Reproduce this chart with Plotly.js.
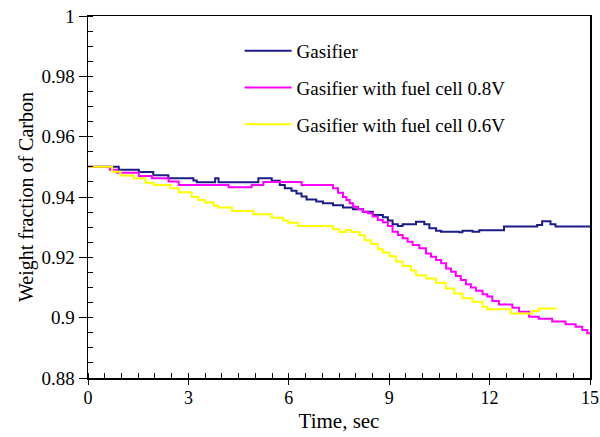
<!DOCTYPE html>
<html>
<head>
<meta charset="utf-8">
<script src="https://cdn.plot.ly/plotly-3.0.1.min.js"></script>
<style>
  html, body { margin: 0; padding: 0; background: #ffffff; }
  #chart { width: 600px; height: 437px; }
</style>
</head>
<body>
<div id="chart"></div>
<script>
// Weight fraction of carbon over time (step traces, value held until next time)
const gasTime = [0, 0.92, 1.52, 1.95, 2.4, 3.15, 3.25, 3.8, 3.9, 5.09, 5.49, 5.73, 5.88, 6.08, 6.23, 6.38, 6.53, 6.82, 7.02, 7.32, 7.62, 7.92, 8.21, 8.51, 8.81, 8.96, 9.1, 9.26, 9.4, 9.8, 10.05, 10.2, 10.4, 10.55, 11.09, 11.19, 11.49, 11.69, 12.43, 13.42, 13.57, 13.82, 13.97, 15];
const gasCarbon = [0.950, 0.9490, 0.9483, 0.9472, 0.9462, 0.9455, 0.9449, 0.9462, 0.9449, 0.9462, 0.9454, 0.9440, 0.9429, 0.9421, 0.9412, 0.9402, 0.9392, 0.9385, 0.9379, 0.9373, 0.9365, 0.9359, 0.9351, 0.9340, 0.9333, 0.9322, 0.9310, 0.9304, 0.9310, 0.9318, 0.9310, 0.9296, 0.9288, 0.9285, 0.9283, 0.9288, 0.9285, 0.9290, 0.9302, 0.9307, 0.9320, 0.9310, 0.9302, 0.9302];

const fc08Time = [0, 0.65, 0.87, 1.52, 1.91, 2.41, 2.71, 4.2, 4.89, 5.24, 6.38, 7.32, 7.47, 7.62, 7.72, 7.82, 7.92, 8.07, 8.21, 8.36, 8.51, 8.66, 8.81, 8.96, 9.1, 9.26, 9.4, 9.55, 9.7, 9.9, 10.1, 10.25, 10.4, 10.55, 10.7, 10.85, 10.99, 11.14, 11.29, 11.44, 11.59, 11.79, 11.93, 12.08, 12.28, 12.68, 12.88, 13.18, 13.47, 13.87, 14.27, 14.57, 14.77, 14.92, 15];
const fc08Carbon = [0.950, 0.9490, 0.9480, 0.9470, 0.9462, 0.9451, 0.9440, 0.9432, 0.9440, 0.9450, 0.9440, 0.9429, 0.9414, 0.9400, 0.9390, 0.9379, 0.9368, 0.9359, 0.9351, 0.9346, 0.9335, 0.9324, 0.9316, 0.9304, 0.9285, 0.9274, 0.9263, 0.9252, 0.9241, 0.9230, 0.9213, 0.9202, 0.9191, 0.9180, 0.9163, 0.9152, 0.9138, 0.9125, 0.9111, 0.9100, 0.9089, 0.9078, 0.9070, 0.9055, 0.9044, 0.9033, 0.9020, 0.9003, 0.8996, 0.8987, 0.8978, 0.8970, 0.8959, 0.8948, 0.8948];

const fc06Time = [0, 0.72, 0.97, 1.37, 1.72, 1.96, 2.46, 2.71, 3.1, 3.3, 3.5, 3.75, 3.9, 4.3, 4.94, 5.49, 5.83, 5.98, 6.28, 7.32, 7.52, 7.72, 7.87, 8.12, 8.27, 8.46, 8.66, 8.81, 9.01, 9.2, 9.4, 9.65, 9.8, 10.1, 10.4, 10.69, 10.94, 11.19, 11.49, 11.79, 11.93, 12.63, 13.27, 13.47, 14.0];
const fc06Carbon = [0.950, 0.9484, 0.9471, 0.9462, 0.9447, 0.9440, 0.9429, 0.9416, 0.9400, 0.9390, 0.9382, 0.9371, 0.9365, 0.9354, 0.9343, 0.9331, 0.9322, 0.9315, 0.9304, 0.9293, 0.9284, 0.9291, 0.9284, 0.9273, 0.9257, 0.9244, 0.9227, 0.9216, 0.9204, 0.9186, 0.9171, 0.9156, 0.9141, 0.9130, 0.9116, 0.9097, 0.9080, 0.9064, 0.9053, 0.9036, 0.9028, 0.9014, 0.9022, 0.9030, 0.9030];

const seriesNames = ['Gasifier', 'Gasifier with fuel cell 0.8V', 'Gasifier with fuel cell 0.6V'];
const xTickVals = [0, 3, 6, 9, 12, 15];
const yTickVals = [0.88, 0.9, 0.92, 0.94, 0.96, 0.98, 1];
const yTickText = ['0.88', '0.9', '0.92', '0.94', '0.96', '0.98', '1'];

const serif = '"Liberation Serif", "Times New Roman", Times, serif';

function stepTrace(x, y, name, color, group) {
  return {
    x: x, y: y, name: name, type: 'scatter', mode: 'lines',
    line: { color: color, width: 2, shape: 'hv' },
    legendgroup: group
  };
}

const data = [
  stepTrace(gasTime, gasCarbon, seriesNames[0], '#1c1c86', 'g1'),
  stepTrace(fc08Time, fc08Carbon, seriesNames[1], '#ff00ff', 'g2'),
  stepTrace(fc06Time, fc06Carbon, seriesNames[2], '#ffff00', 'g3')
];

const layout = {
  width: 600, height: 437,
  margin: { l: 88, r: 10, t: 16, b: 59 },
  paper_bgcolor: '#ffffff', plot_bgcolor: '#ffffff',
  font: { family: serif, size: 19, color: '#000000' },
  showlegend: true,
  legend: {
    x: 0.302, y: 0.956, xanchor: 'left', yanchor: 'top',
    bgcolor: 'rgba(0,0,0,0)', borderwidth: 0,
    font: { family: serif, size: 19, color: '#000000' },
    itemwidth: 47, tracegroupgap: 9, traceorder: 'grouped'
  },
  xaxis: {
    range: [0, 15], tickvals: xTickVals, ticks: 'outside', ticklen: 5,
    tickcolor: '#000', showline: true, linecolor: '#000', linewidth: 1.5,
    mirror: true, showgrid: false, zeroline: false,
    ticklabeloverflow: 'allow', ticklabelstandoff: -2,
    tickfont: { family: serif, size: 18 },
    minor: { dtick: 0.5, ticks: 'inside', ticklen: 5, tickcolor: '#000', showgrid: false },
    title: { text: 'Time, sec', font: { family: serif, size: 21 }, standoff: 6 }
  },
  yaxis: {
    range: [0.88, 1], tickvals: yTickVals, ticktext: yTickText,
    ticks: 'outside', ticklen: 8, tickcolor: '#000',
    showline: true, linecolor: '#000', linewidth: 1.5, mirror: true,
    showgrid: false, zeroline: false,
    ticklabeloverflow: 'allow',
    tickfont: { family: serif, size: 19 },
    minor: { dtick: 0.005, ticks: 'inside', ticklen: 5, tickcolor: '#000', showgrid: false },
    title: { text: 'Weight fraction of Carbon', font: { family: serif, size: 20 }, standoff: 2 }
  }
};

Plotly.newPlot('chart', data, layout, { staticPlot: true, displayModeBar: false });
</script>
</body>
</html>
